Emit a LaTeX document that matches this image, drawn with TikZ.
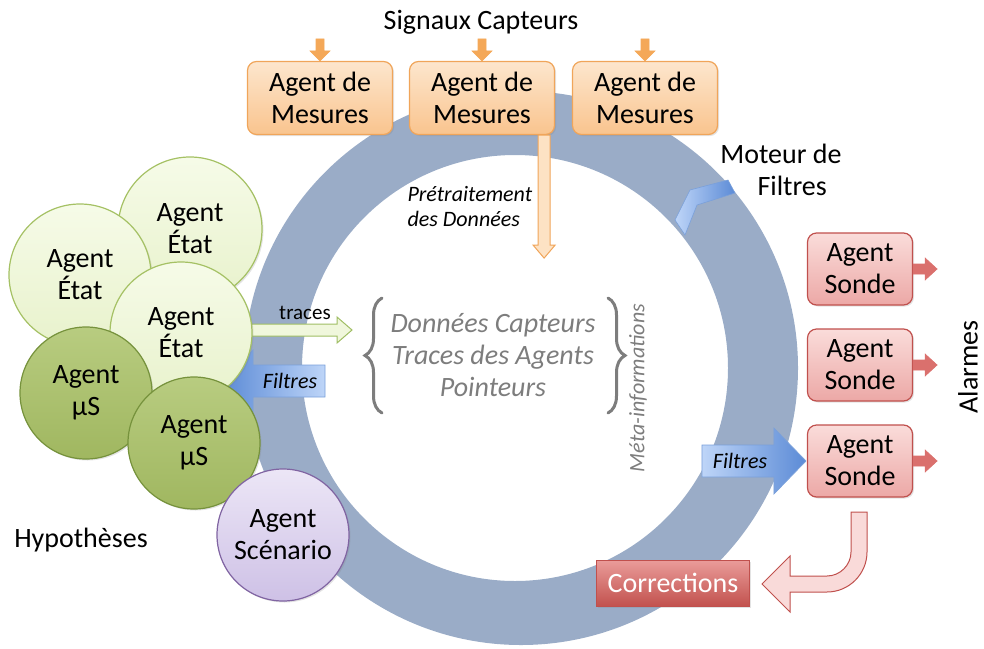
\documentclass[tikz,border=0pt]{standalone}
\usepackage{fontspec}
\setmainfont{Carlito}
\usetikzlibrary{calc,decorations.pathreplacing,shadows}

\definecolor{ringc}{RGB}{154,172,199}
\definecolor{orTop}{RGB}{253,230,205}
\definecolor{orBot}{RGB}{249,196,142}
\definecolor{orLine}{RGB}{240,165,90}
\definecolor{orArrow}{RGB}{244,168,88}
\definecolor{orLight}{RGB}{253,226,196}
\definecolor{etTop}{RGB}{246,251,232}
\definecolor{etBot}{RGB}{232,242,204}
\definecolor{etLine}{RGB}{165,193,100}
\definecolor{muTop}{RGB}{184,204,128}
\definecolor{muBot}{RGB}{160,183,96}
\definecolor{muLine}{RGB}{118,146,60}
\definecolor{scTop}{RGB}{236,230,246}
\definecolor{scBot}{RGB}{206,193,230}
\definecolor{scLine}{RGB}{128,100,162}
\definecolor{soTop}{RGB}{250,220,218}
\definecolor{soBot}{RGB}{236,168,166}
\definecolor{soLine}{RGB}{192,80,77}
\definecolor{soArrow}{RGB}{218,112,109}
\definecolor{coTop}{RGB}{234,156,154}
\definecolor{coBot}{RGB}{194,82,78}
\definecolor{blDark}{RGB}{92,139,214}
\definecolor{blLight}{RGB}{190,213,248}
\definecolor{blLine}{RGB}{122,160,218}
\definecolor{grayTxt}{RGB}{125,125,125}
\definecolor{trFill}{RGB}{240,247,220}
\definecolor{trLine}{RGB}{160,190,100}
\definecolor{uFill}{RGB}{249,218,217}

\begin{document}
\begin{tikzpicture}[x=1pt,y=-1pt,
  big/.style={font=\fontsize{28}{32}\selectfont},
  smalltxt/.style={font=\fontsize{22}{25}\selectfont\itshape},
  shad/.style={drop shadow={opacity=0.22,shadow xshift=1.5pt,shadow yshift=-1.5pt}},
  mesbox/.style={draw=orLine, line width=1.2pt, rounded corners=9pt,
    top color=orTop, bottom color=orBot, minimum width=145pt, minimum height=73pt,
    align=center, inner sep=0pt, big, shad},
  sondebox/.style={draw=soLine, line width=1.2pt, rounded corners=9pt,
    top color=soTop, bottom color=soBot, minimum width=105pt, minimum height=72pt,
    align=center, inner sep=0pt, big, shad},
  etat/.style={circle, draw=etLine, line width=1.2pt, top color=etTop, bottom color=etBot,
    inner sep=0pt, align=center, big, shad},
  mus/.style={circle, draw=muLine, line width=1.2pt, top color=muTop, bottom color=muBot,
    inner sep=0pt, align=center, big, shad},
  scen/.style={circle, draw=scLine, line width=1.2pt, top color=scTop, bottom color=scBot,
    inner sep=0pt, align=center, big, shad},
  smallor/.style={fill=orArrow, draw=orArrow, line width=0.6pt},
  bigor/.style={fill=orLight, draw=orLine, line width=1pt},
  smallso/.style={fill=soArrow, draw=soArrow, line width=0.6pt},
  tracearr/.style={fill=trFill, draw=trLine, line width=1pt},
  bluearrL/.style={left color=blDark, right color=blLight, draw=blLine, line width=0.8pt},
  bluearrR/.style={left color=blLight, right color=blDark, draw=blLine, line width=0.8pt},
  chev/.style={left color=blLight, right color=blDark, draw=blLine, line width=0.6pt},
  uarr/.style={fill=uFill, draw=soLine, line width=1pt},
  bracest/.style={decorate, decoration={brace, amplitude=17pt}, draw=grayTxt, line width=3pt, line cap=round}
]
\useasboundingbox (0,0) rectangle (984,648);

% ring
\fill[ringc, even odd rule] (521,368) circle[radius=277pt] (515,368) circle[radius=213pt];

% title
\node[big] (sig) at (481,22) {Signaux Capteurs};

% measure agents
\node[mesbox] (m1) at (320,98) {Agent de\\Mesures};
\node[mesbox] (m2) at (482,98) {Agent de\\Mesures};
\node[mesbox] (m3) at (645,98) {Agent de\\Mesures};

\foreach \b in {m1,m2,m3}{
  \draw[smallor, shift={(\b.north)}] (-4,-22) -- (4,-22) -- (4,-10) -- (10,-10) -- (0,0) -- (-10,-10) -- (-4,-10) -- cycle;
}

% pretraitement arrow
\draw[bigor, shift={($(m2.south east)+(-11,0)$)}] (-6,0) -- (6,0) -- (6,110) -- (11,110) -- (0,123) -- (-11,110) -- (-6,110) -- cycle;
\node[smalltxt, anchor=west, align=left] (pre) at (404,207) {Prétraitement\\des Données};

% moteur de filtres
\node[big, align=center] (mot) at (781,170) {Moteur de\\\hspace*{0.8em}Filtres};
\draw[chev] (675,220) -- (690,190) -- (728,180) -- (735,193) -- (697,205) -- (685,235) -- cycle;

% central texts
\node[font=\fontsize{28}{32}\selectfont\itshape, text=grayTxt, align=center] (cen) at (493,355) {Données Capteurs\\Traces des Agents\\Pointeurs};
\draw[bracest] (382,413) -- (382,298);
\draw[bracest] (608,298) -- (608,413);
\node[smalltxt, text=grayTxt, rotate=90] (meta) at (638,388) {Méta-informations};

% traces arrow
\coordinate (trs) at (233,330);
\draw[tracearr, shift={(trs)}] (0,-6) -- (104,-6) -- (104,-13) -- (119,0) -- (104,13) -- (104,6) -- (0,6) -- cycle;
\node[font=\fontsize{21}{24}\selectfont] (trl) at (305,313) {traces};

% left filtres arrow
\draw[bluearrL] (325,365) -- (253,365) -- (253,350) -- (223,381) -- (253,412) -- (253,397) -- (325,397) -- cycle;
\node[smalltxt] (fl) at (290,381) {Filtres};

% circles
\node[etat, minimum size=144pt] (eA) at (190,229) {Agent\\État};
\node[etat, minimum size=142pt] (eB) at (80,275) {Agent\\État};
\node[etat, minimum size=142pt] (eC) at (181,333) {Agent\\État};
\node[mus, minimum size=132pt] (uD) at (86,393) {Agent\\µS};
\node[mus, minimum size=132pt] (uE) at (194,443) {Agent\\µS};
\node[scen, minimum size=132pt] (sc) at (283,535) {Agent\\Scénario};
\node[big] (hyp) at (81,540) {Hypothèses};

% sonde agents
\node[sondebox] (s1) at (860,269) {Agent\\Sonde};
\node[sondebox] (s2) at (860,365) {Agent\\Sonde};
\node[sondebox] (s3) at (860,461) {Agent\\Sonde};
\foreach \b in {s1,s2,s3}{
  \draw[smallso, shift={(\b.east)}] (0,-5) -- (12,-5) -- (12,-11) -- (24,0) -- (12,11) -- (12,5) -- (0,5) -- cycle;
}
\node[big, rotate=90, inner sep=1pt] (alarm) at (968,367) {Alarmes};

% right filtres arrow
\draw[bluearrR, shift={(s3.west)}] (-105,-16) -- (-33,-16) -- (-33,-33) -- (-1,0) -- (-33,33) -- (-33,16) -- (-105,16) -- cycle;
\node[smalltxt] (fr) at (740,461) {Filtres};

% corrections
\node[draw=soLine, line width=1pt, top color=coTop, bottom color=coBot, minimum width=153pt,
  minimum height=46pt, inner sep=0pt, big, text=white, shad] (cor) at (673,583) {Corrections};

% U-turn arrow
\draw[uarr] (851,512) -- (867,512) -- (867,552)
  .. controls (867,574) and (849,592) .. (827,592)
  -- (790,592) -- (790,612) -- (762,584) -- (790,556) -- (790,576) -- (827,576)
  .. controls (840,576) and (851,565) .. (851,552) -- cycle;
\end{tikzpicture}
\end{document}
